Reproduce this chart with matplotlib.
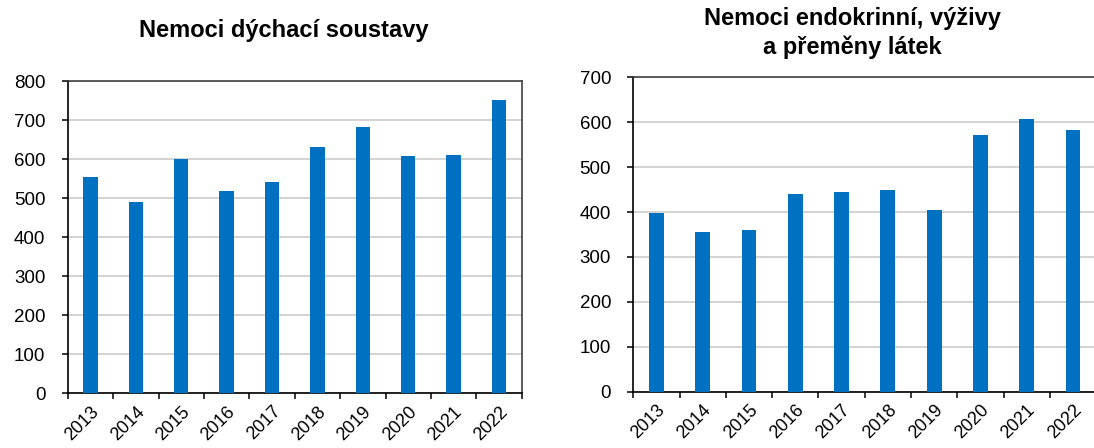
import matplotlib
matplotlib.use("Agg")
import matplotlib.pyplot as plt
import numpy as np

plt.rcParams['font.family'] = ['Liberation Sans', 'DejaVu Sans']

years = ['2013', '2014', '2015', '2016', '2017', '2018', '2019', '2020', '2021', '2022']
dychaci = [554, 489, 599, 518, 541, 630, 682, 607, 611, 752]
endokrinni = [397, 356, 359, 441, 445, 449, 404, 571, 608, 583]

title_left = 'Nemoci dýchací soustavy'
title_right = 'Nemoci endokrinní, výživy\na přeměny látek'

barColor = '#0070c0'


def DrawPanel(ax, values, ymax):
    x = np.arange(len(values))
    ax.bar(x, values, width=0.32, color=barColor, zorder=3)
    ax.set_xlim(-0.5, len(values) - 0.5)
    ax.set_ylim(0, ymax)
    ax.set_yticks(np.arange(0, ymax + 1, 100))
    ax.yaxis.grid(True, color='#c8c8c8', linewidth=1.1, zorder=0)
    ax.set_axisbelow(True)
    ax.set_xticks(x)
    ax.set_xticklabels(years, rotation=45, ha='right', va='top', rotation_mode='anchor')
    ax.set_xticks(np.arange(-0.5, len(values), 1), minor=True)
    ax.tick_params(axis='x', which='major', length=0, pad=7, labelsize=13)
    ax.tick_params(axis='x', which='minor', length=4.5, width=1.1, direction='out')
    ax.tick_params(axis='y', length=4, width=1.1, pad=12, labelsize=13.5)
    for side in ['left', 'bottom']:
        ax.spines[side].set_color('black')
        ax.spines[side].set_linewidth(1.2)
    for side in ['top', 'right']:
        ax.spines[side].set_color('#404040')
        ax.spines[side].set_linewidth(1.2)


fig = plt.figure(figsize=(10.94, 4.48), dpi=100)
axL = fig.add_axes([0.0619, 0.1221, 0.415, 0.697])
axR = fig.add_axes([0.5789, 0.1257, 0.423, 0.7018])

DrawPanel(axL, dychaci, 800)
DrawPanel(axR, endokrinni, 700)
# the right panel runs past the picture edge, so its right frame is not seen
axR.spines['right'].set_visible(False)

fig.text(0.2596, 0.933, title_left, ha='center', va='center', fontsize=17, fontweight='bold')
fig.text(0.779, 0.927, title_right, ha='center', va='center', fontsize=17, fontweight='bold',
         linespacing=1.3)

fig.savefig('out.png', dpi=100)
